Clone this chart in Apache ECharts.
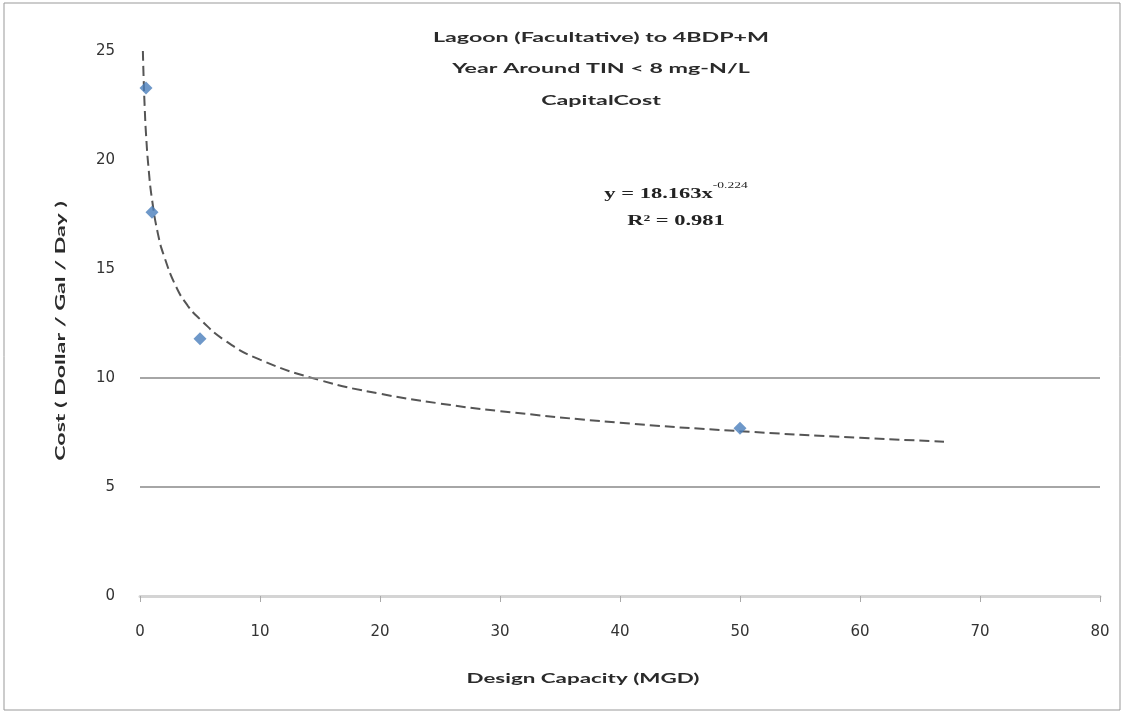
<!DOCTYPE html>
<html><head><meta charset="utf-8">
<script src="https://cdn.jsdelivr.net/npm/echarts@6/dist/echarts.min.js"></script>
<style>html,body{margin:0;padding:0;background:#fff}#c{width:1125px;height:714px}</style>
</head><body><div id="c"></div>
<script>
// Observed data points (Design Capacity MGD, Cost $/gal/day)
const capacity = [0.5, 1, 5, 50];
const cost = [23.3, 17.6, 11.8, 7.7];
// Power trendline (x, y)
const trendX = [0.24, 0.3, 0.4, 0.5, 0.7, 1, 1.5, 2, 3, 4, 5, 7, 10, 15, 20, 25, 30, 40, 50, 60, 67];
const trendY = [25.0, 23.8, 22.3, 21.2, 19.7, 18.2, 16.6, 15.6, 14.2, 13.3, 12.7, 11.75, 10.84, 9.9, 9.28, 8.83, 8.48, 7.95, 7.56, 7.26, 7.08];
const gridValues = [5, 10];
const titleLines = ['Lagoon (Facultative) to 4BDP+M', 'Year Around TIN < 8 mg-N/L', 'CapitalCost'];
const xName = 'Design Capacity (MGD)';
const yName = 'Cost ( Dollar / Gal / Day )';
const eqLine = 'y = 18.163x';
const eqExp = '-0.224';
const r2Line = 'R² = 0.981';

const sansBold = {fontFamily: 'Lato', fontSize: 14, fontWeight: 'bold', fill: '#2a2a2a', align: 'center', verticalAlign: 'middle'};
const titleY = [37, 68, 100];
const graphics = [
  {type: 'rect', shape: {x: 4, y: 3, width: 1116, height: 707}, style: {fill: 'none', stroke: '#999', lineWidth: 1}, silent: true, z: -1}
];
titleLines.forEach((t, i) => graphics.push({type: 'text', x: 601, y: titleY[i], scaleX: 1.66, style: Object.assign({text: t}, sansBold)}));
graphics.push({type: 'text', x: 583, y: 678, scaleX: 1.6, style: Object.assign({text: xName}, sansBold)});
graphics.push({type: 'text', x: 60, y: 331, rotation: Math.PI / 2, scaleX: 1.66, style: Object.assign({text: yName}, sansBold)});
graphics.push({type: 'text', x: 676, y: 208, scaleX: 1.5, style: {
  text: '{n|' + eqLine + '}{s|' + eqExp + '}\n{n|' + r2Line + '}',
  align: 'center', verticalAlign: 'middle',
  rich: {n: {fontFamily: 'Liberation Serif', fontSize: 15, fontWeight: 'bold', fill: '#222', lineHeight: 27, align: 'center'},
         s: {fontFamily: 'Liberation Serif', fontSize: 9, fill: '#222', verticalAlign: 'top', padding: [0, 0, 10, 0]}}
}});

const chart = echarts.init(document.getElementById('c'));
chart.setOption({
  backgroundColor: '#fff',
  animation: false,
  grid: {left: 140, right: 25, top: 51, bottom: 118},
  xAxis: {
    type: 'value', min: 0, max: 80, interval: 10,
    axisLine: {show: true, onZero: false, lineStyle: {color: '#d4d4d4', width: 3}},
    axisTick: {show: true, length: 6, lineStyle: {color: '#aaa'}},
    axisLabel: {margin: 29, fontFamily: 'DejaVu Sans', fontSize: 15, color: '#333'},
    splitLine: {show: false}
  },
  yAxis: {
    type: 'value', min: 0, max: 25, interval: 5,
    axisLine: {show: false}, axisTick: {show: false},
    axisLabel: {margin: 25, fontFamily: 'DejaVu Sans', fontSize: 15, color: '#333'},
    splitLine: {show: false}
  },
  graphic: graphics,
  series: [
    {
      type: 'line', data: trendX.map((x, i) => [x, trendY[i]]), smooth: true, showSymbol: false,
      lineStyle: {color: '#555', width: 2, type: [10, 5]}, z: 2,
      markLine: {silent: true, symbol: 'none', label: {show: false},
        lineStyle: {color: '#888', width: 1.5, type: 'solid'},
        data: gridValues.map(v => ({yAxis: v}))}
    },
    {
      type: 'scatter', data: capacity.map((x, i) => [x, cost[i]]),
      symbol: 'diamond', symbolSize: 13, itemStyle: {color: '#4a7ebb'}, z: 3
    }
  ]
});
</script></body></html>
